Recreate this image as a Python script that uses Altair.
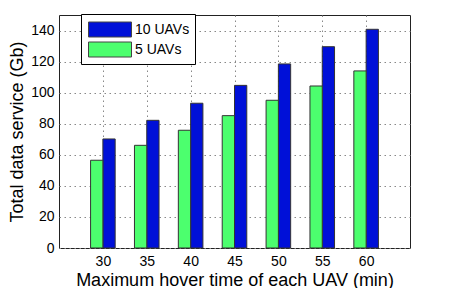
import altair as alt
import pandas as pd

hover_times = [30, 35, 40, 45, 50, 55, 60]
uav10 = [70.2, 82.2, 93.2, 104.7, 118.5, 129.6, 140.8]
uav5 = [56.5, 66.1, 75.8, 85.2, 95.1, 104.3, 114.0]
series_names = ["10 UAVs", "5 UAVs"]
series_colors = ["#0010d8", "#4cff6e"]

rows = []
for t, v in zip(hover_times, uav10):
    rows.append({"t": t, "value": v, "series": "10 UAVs", "shift": 0.0})
for t, v in zip(hover_times, uav5):
    rows.append({"t": t, "value": v, "series": "5 UAVs", "shift": -1.4})
df = pd.DataFrame(rows)

FONT = "Liberation Sans"

chart = (
    alt.Chart(df)
    .transform_calculate(xs="datum.t + datum.shift", xe="datum.t + datum.shift + 1.4")
    .mark_bar(stroke="#333333", strokeWidth=1)
    .encode(
        x=alt.X(
            "xs:Q",
            scale=alt.Scale(domain=[25, 65], nice=False, zero=False),
            axis=alt.Axis(
                values=hover_times,
                title="Maximum hover time of each UAV (min)",
                labelFontSize=14,
                titleFontSize=18,
                labelPadding=6,
                titlePadding=3,
                tickSize=0,
                domain=False,
                gridDash=[1.5, 3.5],
                gridColor="#888888",
                gridWidth=1,
            ),
        ),
        x2="xe:Q",
        y=alt.Y(
            "value:Q",
            scale=alt.Scale(domain=[0, 150], nice=False),
            axis=alt.Axis(
                values=[0, 20, 40, 60, 80, 100, 120, 140],
                title="Total data service (Gb)",
                labelFontSize=14,
                titleFontSize=18,
                labelPadding=5,
                titlePadding=4,
                tickSize=0,
                domain=False,
                gridDash=[1.5, 3.5],
                gridColor="#888888",
                gridWidth=1,
            ),
        ),
        y2=alt.datum(0),
        color=alt.Color(
            "series:N",
            scale=alt.Scale(domain=series_names, range=series_colors),
            legend=alt.Legend(
                title=None,
                orient="none",
                legendX=22,
                legendY=-1,
                fillColor="white",
                strokeColor="black",
                padding=5,
                symbolType="M-2.15,-0.75H2.15V0.75H-2.15Z",
                symbolSize=400,
                symbolOffset=13.5,
                symbolStrokeColor="#444444",
                symbolStrokeWidth=1,
                symbolOpacity=1,
                labelFontSize=14,
                labelFont=FONT,
                labelOffset=14.5,
                labelExpr="datum.label + '   '",
                rowPadding=0,
            ),
        ),
    )
    .properties(
        width=351,
        height=233,
        padding={"left": 51, "top": 7, "right": 30, "bottom": 40},
        autosize=alt.AutoSizeParams(type="none"),
    )
    .configure(font=FONT)
    .configure_axis(labelColor="black", titleColor="black", titleFontWeight="normal", labelFont=FONT, titleFont=FONT)
    .configure_view(stroke="#222222", strokeWidth=1)
)

chart.save("out.html", embed_options={"renderer": "svg", "actions": False})
